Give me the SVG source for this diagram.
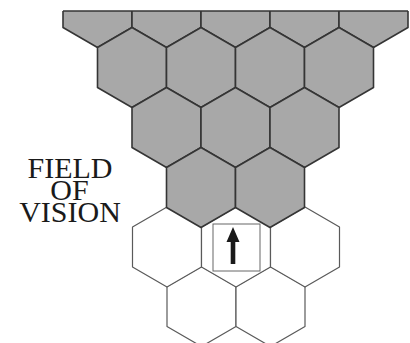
<svg xmlns="http://www.w3.org/2000/svg" width="410" height="343" viewBox="0 0 410 343">
<style>
.g{fill:#a8a8a8;stroke:#353535;stroke-width:1.6;stroke-linejoin:round}
.w{fill:#ffffff;stroke:#5a5a5a;stroke-width:1.2;stroke-linejoin:round}
.lbl{font-family:"Liberation Serif","Times New Roman",serif;font-size:30px;fill:#1a1a1a;text-anchor:middle}
</style>
<defs>
<path id="hex" d="M0,-40 L34.5,-20 L34.5,20 L0,40 L-34.5,20 L-34.5,-20Z"/>
<clipPath id="topclip"><rect x="0" y="11" width="410" height="332"/></clipPath>
</defs>
<rect width="410" height="343" fill="#ffffff"/>
<g id="row0" clip-path="url(#topclip)">
<use href="#hex" class="g" x="97.5" y="7.5"/>
<use href="#hex" class="g" x="166.5" y="7.5"/>
<use href="#hex" class="g" x="235.5" y="7.5"/>
<use href="#hex" class="g" x="304.5" y="7.5"/>
<use href="#hex" class="g" x="373.5" y="7.5"/>
</g>
<line x1="63" y1="11" x2="408" y2="11" stroke="#353535" stroke-width="1.6"/>
<g id="row1">
<use href="#hex" class="g" x="132" y="67.5"/>
<use href="#hex" class="g" x="201" y="67.5"/>
<use href="#hex" class="g" x="270" y="67.5"/>
<use href="#hex" class="g" x="339" y="67.5"/>
</g>
<g id="row2">
<use href="#hex" class="g" x="166.5" y="127.5"/>
<use href="#hex" class="g" x="235.5" y="127.5"/>
<use href="#hex" class="g" x="304.5" y="127.5"/>
</g>
<g id="row5">
<use href="#hex" class="w" x="201.5" y="306.5"/>
<use href="#hex" class="w" x="270.5" y="306.5"/>
</g>
<g id="row4">
<use href="#hex" class="w" x="167" y="247"/>
<use href="#hex" class="w" x="236" y="247"/>
<use href="#hex" class="w" x="305" y="247"/>
</g>
<g id="row3">
<use href="#hex" class="g" x="201" y="187.5"/>
<use href="#hex" class="g" x="270" y="187.5"/>
</g>
<g id="unit">
<rect x="213" y="224" width="47" height="47" fill="none" stroke="#666" stroke-width="1"/>
<polygon points="233,227 239.5,242 235.3,242 235.3,264 230.7,264 230.7,242 226.5,242" fill="#1a1a1a"/>
</g>
<g id="label">
<text class="lbl" x="70" y="178">FIELD</text>
<text class="lbl" x="69.5" y="200">OF</text>
<text class="lbl" x="70" y="222">VISION</text>
</g>
</svg>
